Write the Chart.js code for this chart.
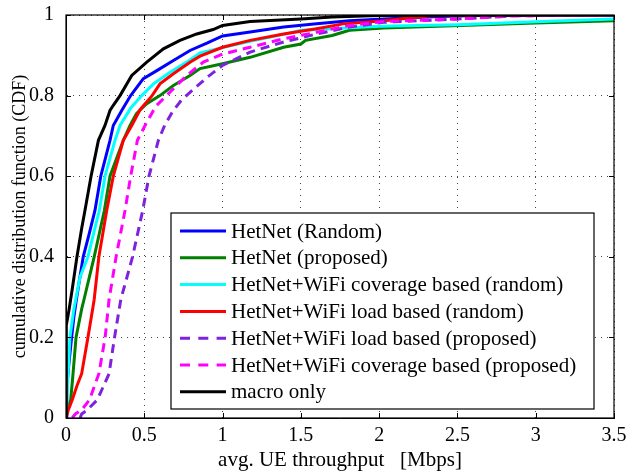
<!DOCTYPE html>
<html>
<head>
<meta charset="utf-8">
<script src="https://cdn.jsdelivr.net/npm/chart.js@4/dist/chart.umd.min.js"></script>
<style>
  html, body { margin: 0; padding: 0; background: #fff; }
  #wrap { width: 628px; height: 471px; position: relative; }
</style>
</head>
<body>
<div id="wrap"><canvas id="c"></canvas></div>
<script>
// ---- data (x in Mbps, y = CDF) ----
const seriesNames = [
  "HetNet (Random)",
  "HetNet (proposed)",
  "HetNet+WiFi coverage based (random)",
  "HetNet+WiFi load based (random)",
  "HetNet+WiFi load based (proposed)",
  "HetNet+WiFi coverage based (proposed)",
  "macro only"
];
const xTicks = [0, 0.5, 1, 1.5, 2, 2.5, 3, 3.5];
const yTicks = [0, 0.2, 0.4, 0.6, 0.8, 1];

const hetRandomX = [0, 0.005, 0.02, 0.036, 0.05, 0.065, 0.085, 0.11, 0.15, 0.185, 0.222, 0.281, 0.302, 0.356, 0.413, 0.494, 0.58, 0.686, 0.792, 0.9, 1.0, 1.176, 1.39, 1.6, 1.81, 2.03, 2.3, 2.6, 3.5];
const hetRandomY = [0, 0.08, 0.14, 0.2, 0.25, 0.29, 0.34, 0.4, 0.46, 0.515, 0.6, 0.689, 0.726, 0.763, 0.8, 0.842, 0.862, 0.887, 0.912, 0.93, 0.948, 0.958, 0.97, 0.978, 0.986, 0.99, 0.995, 0.999, 1.0];

const hetPropX = [0, 0.01, 0.03, 0.045, 0.064, 0.1, 0.115, 0.18, 0.245, 0.281, 0.366, 0.409, 0.45, 0.47, 0.516, 0.6, 0.686, 0.792, 0.856, 1.0, 1.176, 1.39, 1.5, 1.53, 1.7, 1.81, 2.03, 2.52, 3.0, 3.5];
const hetPropY = [0, 0.02, 0.045, 0.11, 0.2, 0.27, 0.294, 0.4, 0.515, 0.6, 0.689, 0.726, 0.755, 0.763, 0.78, 0.8, 0.825, 0.85, 0.867, 0.879, 0.895, 0.92, 0.928, 0.937, 0.949, 0.962, 0.968, 0.974, 0.98, 0.986];

const covRandomX = [0, 0.005, 0.015, 0.025, 0.05, 0.065, 0.09, 0.14, 0.19, 0.213, 0.249, 0.313, 0.345, 0.415, 0.484, 0.558, 0.665, 0.771, 0.856, 1.0, 1.176, 1.39, 1.5, 2.0, 2.5, 3.0, 3.5];
const covRandomY = [0, 0.05, 0.12, 0.2, 0.27, 0.3, 0.35, 0.4, 0.48, 0.515, 0.6, 0.689, 0.726, 0.77, 0.8, 0.829, 0.858, 0.883, 0.906, 0.919, 0.935, 0.952, 0.962, 0.972, 0.976, 0.983, 0.99];

const loadRandomX = [0, 0.015, 0.04, 0.07, 0.1, 0.14, 0.17, 0.18, 0.21, 0.26, 0.302, 0.366, 0.42, 0.473, 0.55, 0.6, 0.686, 0.792, 0.856, 1.0, 1.176, 1.39, 1.6, 1.77, 2.03, 2.33, 3.0, 3.5];
const loadRandomY = [0, 0.02, 0.045, 0.08, 0.11, 0.2, 0.27, 0.294, 0.4, 0.515, 0.6, 0.689, 0.726, 0.765, 0.8, 0.829, 0.854, 0.883, 0.898, 0.92, 0.937, 0.953, 0.966, 0.978, 0.986, 0.998, 1.0, 1.0];

const loadPropX = [0.09, 0.1, 0.135, 0.2, 0.275, 0.31, 0.35, 0.425, 0.49, 0.53, 0.59, 0.63, 0.68, 0.74, 0.9, 1.0, 1.176, 1.39, 1.6, 1.81, 2.03, 2.5, 2.86, 3.5];
const loadPropY = [0, 0.01, 0.02, 0.045, 0.11, 0.2, 0.294, 0.4, 0.515, 0.6, 0.689, 0.726, 0.76, 0.79, 0.845, 0.875, 0.908, 0.933, 0.953, 0.97, 0.982, 0.99, 0.998, 1.0];

const covPropX = [0.04, 0.06, 0.1, 0.15, 0.21, 0.25, 0.275, 0.32, 0.377, 0.413, 0.456, 0.505, 0.558, 0.58, 0.665, 0.771, 0.877, 1.0, 1.176, 1.39, 1.6, 1.81, 2.03, 2.5, 2.86, 3.5];
const covPropY = [0, 0.01, 0.02, 0.045, 0.11, 0.2, 0.294, 0.4, 0.515, 0.6, 0.689, 0.726, 0.763, 0.776, 0.809, 0.85, 0.883, 0.903, 0.92, 0.941, 0.957, 0.974, 0.984, 0.99, 0.998, 1.0];

const macroX = [0, 0.002, 0.02, 0.04, 0.07, 0.1, 0.121, 0.16, 0.207, 0.249, 0.281, 0.302, 0.345, 0.42, 0.516, 0.622, 0.728, 0.835, 0.94, 1.0, 1.176, 1.5, 1.7, 2.0, 3.5];
const macroY = [0, 0.23, 0.27, 0.32, 0.4, 0.47, 0.515, 0.6, 0.689, 0.726, 0.763, 0.776, 0.8, 0.85, 0.883, 0.916, 0.937, 0.953, 0.964, 0.974, 0.984, 0.99, 0.995, 0.999, 1.0];

const seriesX = [hetRandomX, hetPropX, covRandomX, loadRandomX, loadPropX, covPropX, macroX];
const seriesY = [hetRandomY, hetPropY, covRandomY, loadRandomY, loadPropY, covPropY, macroY];
const seriesColors = ["#0000ff", "#007f00", "#00ffff", "#ff0000", "#7f22e0", "#ff00ff", "#000000"];
const seriesDashed = [false, false, false, false, true, true, false];

const SERIF = "'Liberation Serif', 'Times New Roman', serif";

function pts(xs, ys) { return xs.map((x, i) => ({ x: x, y: ys[i] })); }

const datasets = seriesNames.map((name, i) => ({
  label: name,
  data: pts(seriesX[i], seriesY[i]),
  borderColor: seriesColors[i],
  backgroundColor: seriesColors[i],
  borderWidth: 3,
  borderDash: seriesDashed[i] ? [9, 6] : [],
  pointRadius: 0,
  showLine: true,
  fill: false,
  tension: 0,
  order: seriesNames.length - i
}));

const framePlugin = {
  id: 'frame',
  afterDatasetsDraw(chart) {
    const ctx = chart.ctx, a = chart.chartArea;
    const xs = chart.scales.x, ys = chart.scales.y;
    ctx.save();
    ctx.strokeStyle = '#000';
    ctx.lineWidth = 1;
    // inward tick marks
    ctx.beginPath();
    xTicks.forEach(v => {
      const px = Math.round(xs.getPixelForValue(v)) + 0.5;
      ctx.moveTo(px, a.bottom); ctx.lineTo(px, a.bottom - 5);
      ctx.moveTo(px, a.top); ctx.lineTo(px, a.top + 5);
    });
    yTicks.forEach(v => {
      const py = Math.round(ys.getPixelForValue(v)) + 0.5;
      ctx.moveTo(a.left, py); ctx.lineTo(a.left + 5, py);
      ctx.moveTo(a.right, py); ctx.lineTo(a.right - 5, py);
    });
    ctx.stroke();
    ctx.lineWidth = 1.2;
    ctx.strokeRect(a.left, a.top, a.right - a.left, a.bottom - a.top);

    // legend box
    const bx = a.left + 105, by = a.top + 198, bw = 423, bh = 196;
    ctx.fillStyle = '#fff';
    ctx.fillRect(bx, by, bw, bh);
    ctx.lineWidth = 1.2;
    ctx.strokeRect(bx, by, bw, bh);
    ctx.font = '21px ' + SERIF;
    ctx.textBaseline = 'middle';
    ctx.textAlign = 'left';
    chart.data.datasets.forEach((ds, i) => {
      const y = by + 18 + i * 26.8;
      ctx.beginPath();
      ctx.strokeStyle = ds.borderColor;
      ctx.lineWidth = 3;
      ctx.setLineDash(seriesDashed[i] ? [10, 8.3] : []);
      ctx.moveTo(bx + 9, y); ctx.lineTo(bx + 55, y);
      ctx.stroke();
      ctx.setLineDash([]);
      ctx.fillStyle = '#000';
      ctx.fillText(ds.label, bx + 60, y + 1);
    });
    ctx.restore();
  }
};

function noPad(s) { s.paddingTop = 0; s.paddingBottom = 0; s.paddingLeft = 0; s.paddingRight = 0; }

new Chart(document.getElementById('c'), {
  type: 'scatter',
  data: { datasets: datasets },
  options: {
    responsive: true,
    maintainAspectRatio: false,
    animation: false,
    layout: { padding: { left: 11, top: 15, right: 14, bottom: 0 } },
    plugins: { legend: { display: false }, tooltip: { enabled: false } },
    scales: {
      x: {
        type: 'linear', min: 0, max: 3.5,
        afterBuildTicks: s => { s.ticks = xTicks.map(v => ({ value: v })); },
        afterFit: s => { s.height = 53; noPad(s); },
        ticks: { color: '#000', font: { family: SERIF, size: 20 }, padding: 6, maxRotation: 0,
                 callback: v => String(v) },
        grid: { color: '#444', lineWidth: 1, drawTicks: false },
        border: { display: true, color: '#000', width: 1, dash: [1, 5] },
        title: { display: true, text: 'avg. UE throughput   [Mbps]', color: '#000',
                 font: { family: SERIF, size: 21, lineHeight: 1 }, padding: { top: 0, bottom: 0 } }
      },
      y: {
        type: 'linear', min: 0, max: 1,
        afterBuildTicks: s => { s.ticks = yTicks.map(v => ({ value: v })); },
        afterFit: s => { s.width = 55; noPad(s); },
        ticks: { color: '#000', font: { family: SERIF, size: 20 }, padding: 12,
                 callback: v => String(v) },
        grid: { color: '#444', lineWidth: 1, drawTicks: false },
        border: { display: true, color: '#000', width: 1, dash: [1, 5] },
        title: { display: true, text: 'cumulative distribution function (CDF)', color: '#000',
                 font: { family: SERIF, size: 18, lineHeight: 1 }, padding: { top: 0, bottom: 0 } }
      }
    }
  },
  plugins: [framePlugin]
});
</script>
</body>
</html>
